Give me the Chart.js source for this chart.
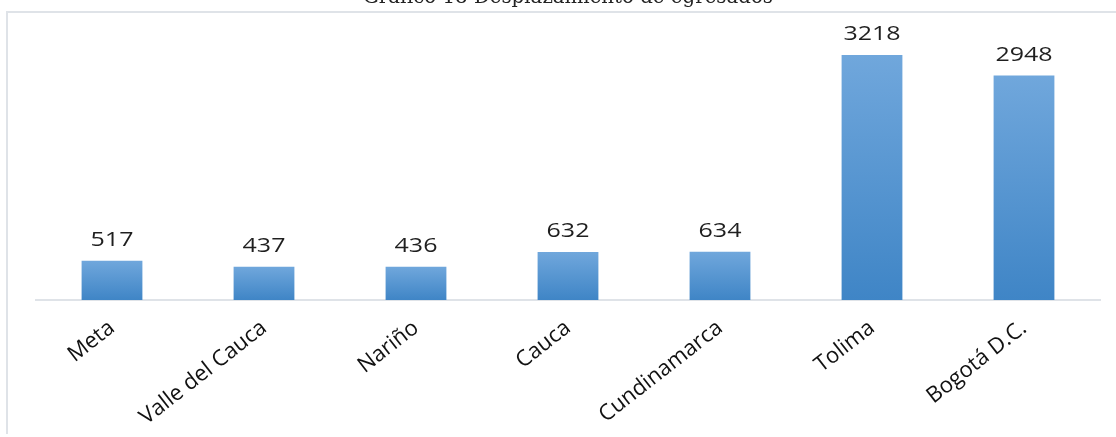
<!DOCTYPE html>
<html>
<head>
<meta charset="utf-8">
<script src="https://cdn.jsdelivr.net/npm/chart.js@4"></script>
<style>
  html, body { margin: 0; padding: 0; background: #fff; }
  .wrap { width: 1116px; height: 437px; position: relative; }
</style>
</head>
<body>
<div class="wrap"><canvas class="main-canvas" width="1116" height="437"></canvas></div>
<script>
const titleText = "Gráfico 18 Desplazamiento de egresados";
const departments = ["Meta", "Valle del Cauca", "Nariño", "Cauca", "Cundinamarca", "Tolima", "Bogotá D.C."];
const graduates = [517, 437, 436, 632, 634, 3218, 2948];

// frame lines + half-cut caption at the top
const framePlugin = {
  id: "frame",
  beforeDraw(chart) {
    const c = chart.ctx;
    c.save();
    c.strokeStyle = "#dfe3e8";
    c.lineWidth = 2;
    c.beginPath();
    c.moveTo(6, 12);
    c.lineTo(1116, 12);
    c.moveTo(7, 12);
    c.lineTo(7, 434);
    c.stroke();

    c.fillStyle = "#222";
    c.font = "21px 'DejaVu Serif'";
    c.textBaseline = "alphabetic";
    const w = c.measureText(titleText).width;
    c.translate(363, 3);
    c.scale(410 / w, 1);
    c.fillText(titleText, 0, 0);
    c.restore();
  },
};

// value labels above the bars, a bit stretched like the source
const valueLabels = {
  id: "valueLabels",
  afterDatasetsDraw(chart) {
    const c = chart.ctx;
    const meta = chart.getDatasetMeta(0);
    c.save();
    c.fillStyle = "#1f1f1f";
    c.font = "500 20px 'Open Sans'";
    c.textAlign = "center";
    c.textBaseline = "alphabetic";
    meta.data.forEach((bar, i) => {
      c.save();
      c.translate(bar.x, bar.y - 15);
      c.scale(1.25, 1);
      c.fillText(String(graduates[i]), 0, 0);
      c.restore();
    });
    c.restore();
  },
};

function barFill(context) {
  const chart = context.chart;
  const area = chart.chartArea;
  if (!area) return "#5b9bd5";
  const yScale = chart.scales.y;
  const top = yScale.getPixelForValue(graduates[context.dataIndex]);
  const g = chart.ctx.createLinearGradient(0, top, 0, area.bottom);
  g.addColorStop(0, "#70a7dc");
  g.addColorStop(1, "#3f85c6");
  return g;
}

const ctx = document.querySelector(".main-canvas").getContext("2d");

new Chart(ctx, {
  type: "bar",
  data: {
    labels: departments,
    datasets: [
      {
        data: graduates,
        backgroundColor: barFill,
        borderWidth: 0,
        barPercentage: 0.4,
        categoryPercentage: 1,
      },
    ],
  },
  options: {
    responsive: false,
    animation: false,
    layout: {
      padding: { left: 36, right: 16, top: 26, bottom: 0 },
    },
    plugins: {
      legend: { display: false },
      tooltip: { enabled: false },
    },
    scales: {
      x: {
        grid: { display: false, drawTicks: false },
        border: { color: "#dfe3e8", width: 2 },
        ticks: {
          color: "#111",
          font: { family: "'Open Sans'", size: 22 },
          maxRotation: 38,
          minRotation: 38,
          padding: 15,
          autoSkip: false,
        },
        afterFit(scale) {
          scale.height = 137;
        },
      },
      y: {
        display: false,
        min: 0,
        max: 3600,
      },
    },
  },
  plugins: [framePlugin, valueLabels],
});
</script>
</body>
</html>
